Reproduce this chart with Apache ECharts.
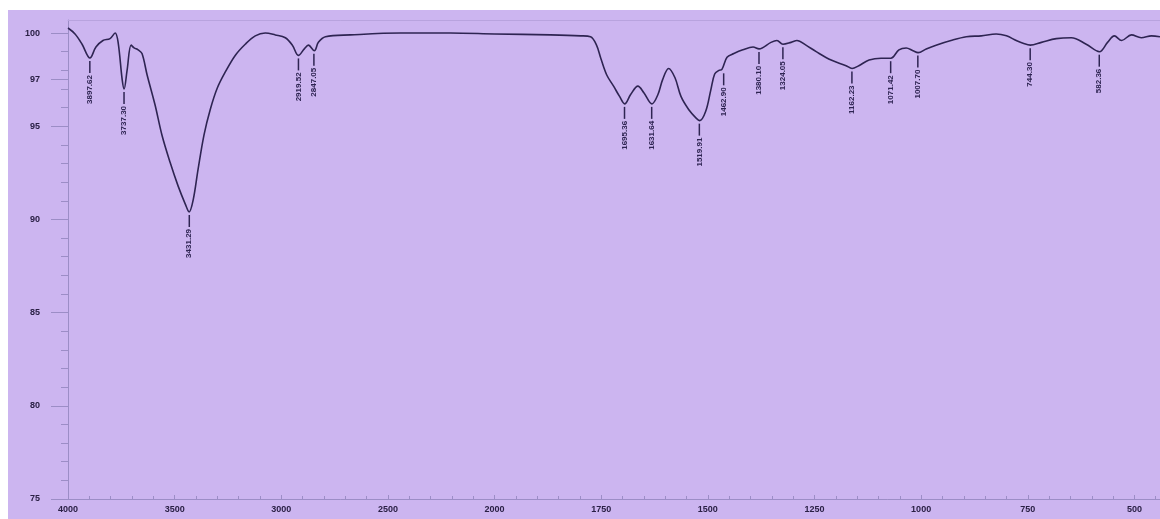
<!DOCTYPE html>
<html>
<head>
<meta charset="utf-8">
<script src="https://cdn.jsdelivr.net/npm/echarts@6/dist/echarts.min.js"></script>
<style>
  html, body { margin: 0; padding: 0; background: #ffffff; }
  #chart { position: absolute; left: 8px; top: 10px; width: 1152px; height: 509px; }
</style>
</head>
<body>
<div id="chart"></div>
<script>
// IR spectrum: wavenumber (cm-1) vs. transmittance (%)
const wavenumbers = [4000,3967,3934,3897,3869,3836,3803,3779,3765,3746,3737,3723,3704,3690,3671,3653,3629,3592,3559,3521,3484,3451,3432,3413,3390,3362,3333,3300,3263,3216,3169,3122,3075,3028,2981,2948,2920,2892,2873,2845,2826,2793,2676,2441,2207,2000,1869,1798,1775,1761,1751,1737,1721,1707,1695,1681,1664,1650,1631,1617,1606,1592,1577,1563,1545,1528,1519,1505,1493,1484,1474,1467,1455,1439,1418,1394,1380,1352,1338,1324,1305,1291,1270,1246,1211,1176,1162,1146,1122,1094,1071,1052,1035,1019,1007,988,965,930,894,859,824,800,777,761,744,718,683,648,613,582,563,547,530,507,484,460,440];
const transmittance = [100.27,99.95,99.4,98.66,99.25,99.6,99.7,100.0,99.5,97.5,97.0,98.0,99.35,99.2,99.1,98.9,97.75,96.15,94.5,93.05,91.8,90.85,90.4,91.05,92.7,94.55,95.9,97.05,97.9,98.8,99.4,99.85,100.0,99.9,99.75,99.35,98.8,99.15,99.35,99.05,99.5,99.8,99.9,100.0,100.0,99.95,99.9,99.85,99.8,99.35,98.65,97.75,97.15,96.6,96.2,96.7,97.15,96.8,96.2,96.7,97.5,98.1,97.6,96.6,95.9,95.45,95.3,95.8,96.95,97.8,98.0,98.05,98.7,98.9,99.1,99.25,99.15,99.5,99.6,99.4,99.5,99.6,99.35,99.0,98.55,98.25,98.1,98.25,98.55,98.65,98.65,99.1,99.2,99.05,98.95,99.15,99.35,99.6,99.8,99.85,99.95,99.85,99.6,99.45,99.35,99.5,99.7,99.75,99.4,99.0,99.5,99.85,99.6,99.9,99.75,99.85,99.8];

// Labelled absorption bands
const peakWavenumbers = [3897.62,3737.30,3431.29,2919.52,2847.05,1695.36,1631.64,1519.91,1462.90,1380.10,1324.05,1162.23,1071.42,1007.70,744.30,582.36];
const peakTransmittance = [98.66,97.0,90.4,98.8,99.05,96.2,96.2,95.3,98.0,99.15,99.4,98.1,98.65,98.95,99.35,99.0];

// Axis ticks
const xTickLabels = [4000,3500,3000,2500,2000,1750,1500,1250,1000,750,500];
const yLabelValues = [75,80,85,90,95,97.5,100];

// The wavenumber scale is compressed by half above 2000 cm-1.
// u is the linear axis position used by ECharts.
function toAxis(wn) { return wn >= 2000 ? (4000 - wn) / 2 : 1000 + (2000 - wn); }
function fromAxis(u) { return u <= 1000 ? 4000 - 2 * u : 2000 - (u - 1000); }

const lineColor = '#2e2452';
const textColor = '#2a2045';
const axisColor = '#9c8dc6';

const spectrum = wavenumbers.map((w, i) => [toAxis(w), transmittance[i]]);
const peaks = peakWavenumbers.map((w, i) => [toAxis(w), peakTransmittance[i], w]);
const xLabelSet = new Set(xTickLabels);

const yMinorTicks = [];
for (let v = 75; v <= 100; v += 1) yMinorTicks.push(v);

const chart = echarts.init(document.getElementById('chart'), null, { renderer: 'canvas' });

chart.setOption({
  backgroundColor: '#ccb5f0',
  animation: false,
  grid: { left: 60, top: 10, right: 0, bottom: 20 },
  xAxis: [{
    type: 'value',
    min: 0,
    max: toAxis(440),
    interval: 250,
    axisLine: { show: true, lineStyle: { color: axisColor, width: 1 } },
    axisTick: { show: true, inside: true, length: 4, lineStyle: { color: axisColor } },
    minorTick: { show: true, splitNumber: 5, length: 3, lineStyle: { color: axisColor } },
    splitLine: { show: false },
    axisLabel: {
      show: true, margin: 6, showMaxLabel: false,
      color: textColor, fontSize: 9, fontWeight: 'bold', fontFamily: 'Liberation Sans',
      formatter: function (u) {
        const w = Math.round(fromAxis(u));
        return xLabelSet.has(w) ? String(w) : '';
      }
    }
  }, {
    type: 'value',
    position: 'top',
    min: 0,
    max: toAxis(440),
    axisLine: { show: true, lineStyle: { color: '#b8a3de', width: 1 } },
    axisTick: { show: false },
    axisLabel: { show: false },
    splitLine: { show: false }
  }],
  yAxis: [{
    type: 'value',
    min: 75,
    max: 100.7,
    axisLine: { show: true, lineStyle: { color: axisColor, width: 1 } },
    axisTick: { show: true, length: 17, customValues: yLabelValues, lineStyle: { color: axisColor } },
    splitLine: { show: false },
    axisLabel: {
      show: true, margin: 28, customValues: yLabelValues,
      color: textColor, fontSize: 9, fontWeight: 'bold', fontFamily: 'Liberation Sans',
      formatter: function (v) { return String(Math.floor(v)); }
    }
  }, {
    type: 'value',
    min: 75,
    max: 100.7,
    position: 'left',
    axisLine: { show: false },
    axisTick: { show: true, length: 7, customValues: yMinorTicks, lineStyle: { color: axisColor } },
    axisLabel: { show: false },
    splitLine: { show: false }
  }],
  series: [{
    type: 'line',
    data: spectrum,
    smooth: 0.35,
    showSymbol: false,
    symbol: 'none',
    lineStyle: { color: lineColor, width: 1.6 },
    z: 3
  }, {
    type: 'custom',
    data: peaks,
    z: 4,
    renderItem: function (params, api) {
      const pt = api.coord([api.value(0), api.value(1)]);
      const label = Number(api.value(2)).toFixed(2);
      return {
        type: 'group',
        children: [{
          type: 'line',
          shape: { x1: pt[0], y1: pt[1] + 3, x2: pt[0], y2: pt[1] + 15 },
          style: { stroke: lineColor, lineWidth: 1.5 }
        }, {
          type: 'text',
          x: pt[0],
          y: pt[1] + 17,
          rotation: Math.PI / 2,
          style: {
            text: label,
            align: 'right',
            verticalAlign: 'middle',
            font: 'bold 8px "Liberation Sans"',
            fill: lineColor
          }
        }]
      };
    }
  }]
});
</script>
</body>
</html>
